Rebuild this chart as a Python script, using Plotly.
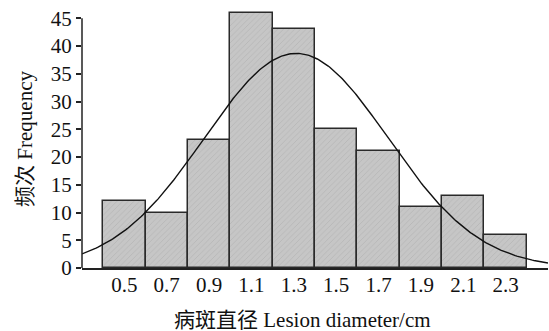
import numpy as np
import plotly.graph_objects as go

# Histogram of lesion diameters (bin midpoints, cm) and counts
bin_mid = [0.5, 0.7, 0.9, 1.1, 1.3, 1.5, 1.7, 1.9, 2.1, 2.3]
counts = [12, 10, 23, 46, 43, 25, 21, 11, 13, 6]
bin_width = 0.2
tick_labels = ["0.5", "0.7", "0.9", "1.1", "1.3", "1.5", "1.7", "1.9", "2.1", "2.3"]
y_ticks = [0, 5, 10, 15, 20, 25, 30, 35, 40, 45]

# Normal curve fitted to the binned data, scaled to counts
mid = np.array(bin_mid)
cnt = np.array(counts)
n = cnt.sum()
mu = (mid * cnt).sum() / n
sigma = np.sqrt(((mid - mu) ** 2 * cnt).sum() / n)
xc = np.linspace(0.3, 2.5, 300)
yc = n * bin_width / (sigma * np.sqrt(2 * np.pi)) * np.exp(-0.5 * ((xc - mu) / sigma) ** 2)

FONT = "Liberation Serif, Times New Roman, Noto Sans CJK SC, serif"

fig = go.Figure()
fig.add_trace(go.Bar(
    x=bin_mid, y=counts, width=bin_width,
    marker=dict(
        color="#c6c6c6",
        line=dict(color="#2a2a2a", width=1.5),
        pattern=dict(shape="/", fgcolor="#9a9a9a", bgcolor="#c6c6c6", size=4, solidity=0.15),
    ),
    showlegend=False,
))
fig.add_trace(go.Scatter(
    x=xc, y=yc, mode="lines",
    line=dict(color="#111111", width=1.4),
    showlegend=False,
))

# y axis line only spans the labelled range 0-45
fig.add_shape(type="line", xref="paper", yref="y", x0=0, x1=0, y0=0, y1=45,
              line=dict(color="#222222", width=1.5))

# x axis title, placed slightly left of the plot centre
fig.add_annotation(text="病斑直径 Lesion diameter/cm", xref="paper", yref="paper",
                   x=0.474, y=-0.2, xanchor="center", yanchor="middle",
                   showarrow=False, font=dict(size=21))

fig.update_layout(
    width=549, height=331,
    margin=dict(l=82, r=1, t=10, b=63),
    paper_bgcolor="white", plot_bgcolor="white",
    font=dict(family=FONT, size=21, color="#111111"),
    bargap=0,
    xaxis=dict(
        range=[0.3, 2.5], tickvals=bin_mid, ticktext=tick_labels,
        showline=True, linecolor="#222222", linewidth=1.5,
        ticks="", showgrid=False, zeroline=False,
        tickfont=dict(size=21), ticklabelstandoff=-3,
    ),
    yaxis=dict(
        range=[0, 46.5], tickvals=y_ticks,
        showline=False, ticks="outside", ticklen=5, tickwidth=1.5, tickcolor="#222222",
        showgrid=False, zeroline=False,
        tickfont=dict(size=21),
        title=dict(text="频次 Frequency", font=dict(size=21), standoff=12),
    ),
)

fig.write_html("out.html")
